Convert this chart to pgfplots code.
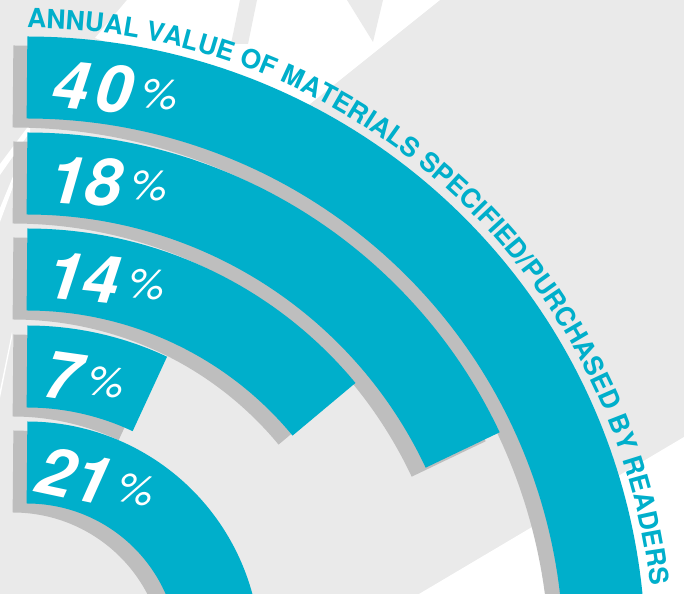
\documentclass[border=0pt]{standalone}
\usepackage{pgfplots}
\pgfplotsset{compat=1.18}
\usepackage{fontspec}
\setmainfont{TeX Gyre Heros}
\usetikzlibrary{decorations.text}
\definecolor{barcyan}{HTML}{00AFCB}
\definecolor{shadowgrey}{HTML}{BEBEBE}
\definecolor{bggrey}{HTML}{EAEAEA}
% centre of the rings (px, y up): (27,-61); 100% = 360 degrees
\newcommand{\pct}[2]{{\fontsize{66}{66}\selectfont\bfseries\itshape #1}\hspace{8pt}\raisebox{9pt}{\fontsize{42}{42}\selectfont\itshape\%}}
\begin{document}
\begin{tikzpicture}[x=1pt,y=1pt]
\clip (0,0) rectangle (684,594);
% background
\fill[bggrey] (0,0) rectangle (684,594);
\fill[white] (419,0) -- (684,157) -- (684,0) -- cycle;
\fill[white] (127,594) -- (440,594) -- (300,482) -- (95,556) -- cycle;
\fill[bggrey] (240,594) -- (257,594) -- (248,550) -- (231,550) -- cycle;
\fill[bggrey] (347,594) -- (383,594) -- (373,552) -- cycle;
\fill[white] (0,419) -- (0,430) -- (30,470) -- (30,462) -- cycle;
\fill[white] (0,372) -- (0,386) -- (14,420) -- (14,410) -- cycle;
\fill[white] (0,196) -- (0,204) -- (12,262) -- (12,256) -- cycle;
\begin{axis}[at={(0,0)}, anchor=south west, scale only axis,
  width=684pt, height=594pt, xmin=0, xmax=684, ymin=0, ymax=594,
  hide axis, clip=true, trig format plots=deg]
% shadows (offset -14,-9)
\addplot[shadowgrey, line width=82pt, domain=0:{40*3.6}, samples=150] ({13+577.5*sin(x)}, {-70+577.5*cos(x)});
\addplot[shadowgrey, line width=82pt, domain=0:{18*3.6}, samples=80] ({13+481.5*sin(x)}, {-70+481.5*cos(x)});
\addplot[shadowgrey, line width=82pt, domain=0:{14*3.6}, samples=70] ({13+385.5*sin(x)}, {-70+385.5*cos(x)});
\addplot[shadowgrey, line width=82pt, domain=0:{7*3.6}, samples=40] ({13+288.5*sin(x)}, {-70+288.5*cos(x)});
\addplot[shadowgrey, line width=82pt, domain=0:{21*3.6}, samples=80] ({13+192.5*sin(x)}, {-70+192.5*cos(x)});
% bars
\addplot[barcyan, line width=82pt, domain=0:{40*3.6}, samples=150] ({27+577.5*sin(x)}, {-61+577.5*cos(x)});
\addplot[barcyan, line width=82pt, domain=0:{18*3.6}, samples=80] ({27+481.5*sin(x)}, {-61+481.5*cos(x)});
\addplot[barcyan, line width=82pt, domain=0:{14*3.6}, samples=70] ({27+385.5*sin(x)}, {-61+385.5*cos(x)});
\addplot[barcyan, line width=82pt, domain=0:{7*3.6}, samples=40] ({27+288.5*sin(x)}, {-61+288.5*cos(x)});
\addplot[barcyan, line width=82pt, domain=0:{21*3.6}, samples=80] ({27+192.5*sin(x)}, {-61+192.5*cos(x)});
% labels
\node[anchor=base west, inner sep=0pt, text=white, rotate=-6] at (axis cs:50,488) {\pct{4\kern7pt0}{}};
\node[anchor=base west, inner sep=0pt, text=white, rotate=-4] at (axis cs:47,392) {\pct{18}{}};
\node[anchor=base west, inner sep=0pt, text=white, rotate=-6] at (axis cs:44,297) {\pct{14}{}};
\node[anchor=base west, inner sep=0pt, text=white, rotate=-8] at (axis cs:40,198) {\pct{7}{}};
\node[anchor=base west, inner sep=0pt, text=white, rotate=-12] at (axis cs:33,103) {\pct{21}{}};
\end{axis}
% curved title
\path[decorate, decoration={text along path, text align=left,
  text={|\fontsize{26.4}{26.4}\selectfont\bfseries\color{barcyan}|ANNUAL VALUE OF MATERIALS SPECIFIED/PURCHASED BY READERS}}]
  (27,566) arc[start angle=90, end angle=-15, radius=627pt];
\end{tikzpicture}
\end{document}
